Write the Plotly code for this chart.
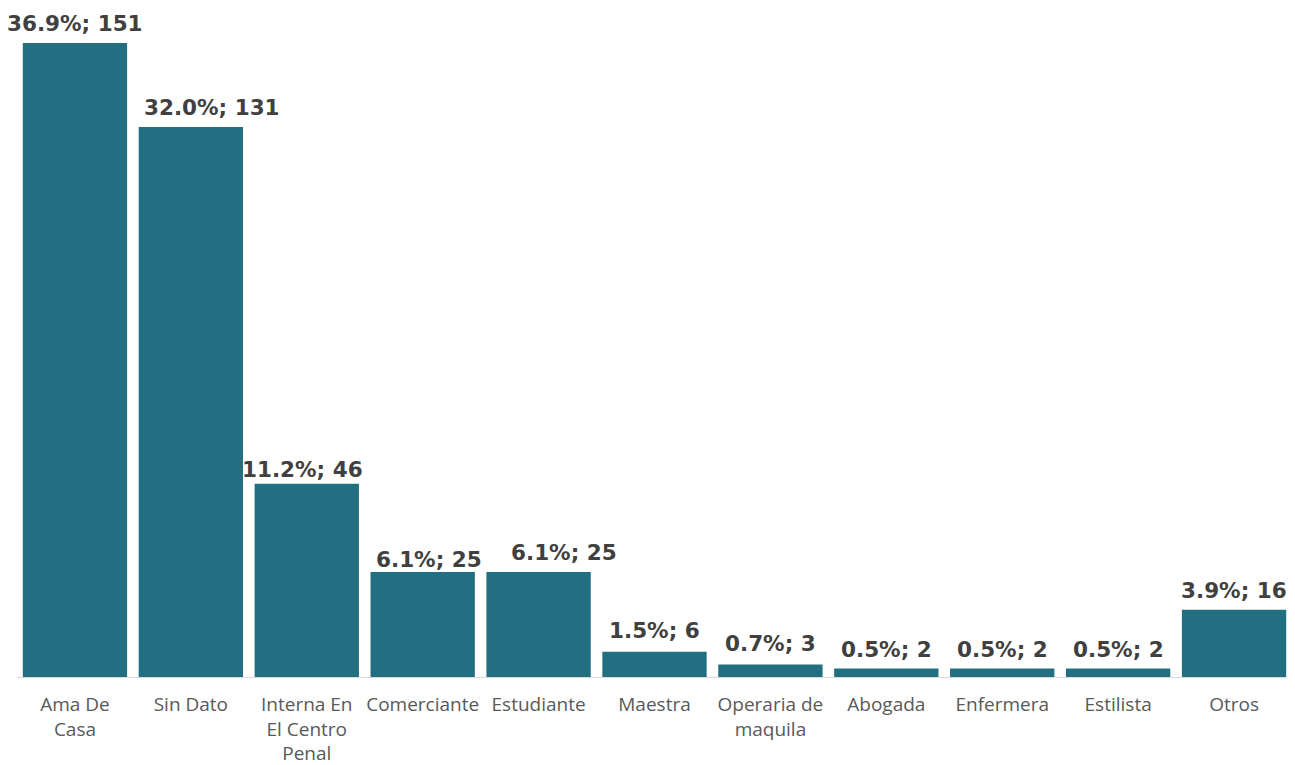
import plotly.graph_objects as go

categories = ["Ama De<br>Casa", "Sin Dato", "Interna En<br>El Centro<br>Penal", "Comerciante",
              "Estudiante", "Maestra", "Operaria de<br>maquila", "Abogada", "Enfermera",
              "Estilista", "Otros"]
counts = [151, 131, 46, 25, 25, 6, 3, 2, 2, 2, 16]
percents = [36.9, 32.0, 11.2, 6.1, 6.1, 1.5, 0.7, 0.5, 0.5, 0.5, 3.9]

labels = [f"{p:.1f}%; {c}" for p, c in zip(percents, counts)]

# label nudges (pixels) to mimic the reference's label placement
label_dx = [0, 21, -4, 6, 25, 0, 0, 0, 0, 0, 0]
label_dy = [5, 5, 0, -2, 5, 7, 6, 5, 5, 5, 5]

fig = go.Figure(go.Bar(
    x=categories, y=counts, cliponaxis=False,
    marker=dict(color="#236F82", line=dict(width=0)),
))

for cat, c, lab, dx, dy in zip(categories, counts, labels, label_dx, label_dy):
    fig.add_annotation(x=cat, y=c, text=lab, showarrow=False, yanchor="bottom",
                       xshift=dx, yshift=dy,
                       font=dict(family="DejaVu Sans", size=21.5, color="#404040", weight="bold"))

# body has an 8px default margin in the page, so the figure is offset by 8px
fig.update_layout(
    width=1287, height=757,
    margin=dict(l=9, r=3, t=35, b=88, autoexpand=False),
    paper_bgcolor="white", plot_bgcolor="white",
    bargap=0.1, showlegend=False,
)
fig.update_xaxes(showline=True, linecolor="#D9D9D9", linewidth=1, ticks="",
                 tickfont=dict(family="Open Sans", size=19, color="#595959"),
                 ticklabelstandoff=10, automargin=False,
                 range=[-0.5, len(categories) - 0.5])
fig.update_yaxes(range=[0, 151], visible=False, showgrid=False, zeroline=False,
                 automargin=False)

fig.write_html("out.html")
